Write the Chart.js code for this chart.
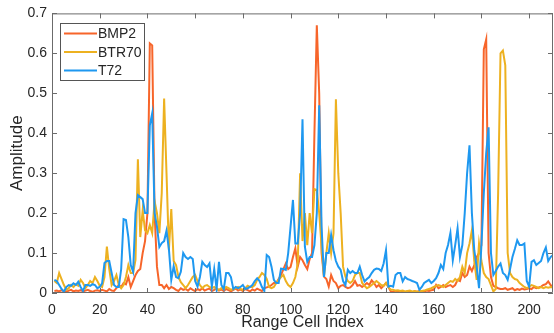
<!DOCTYPE html>
<html>
<head>
<meta charset="utf-8">
<script src="https://cdn.jsdelivr.net/npm/chart.js@4.4.1/dist/chart.umd.min.js"></script>
<style>
    html, body { margin: 0; padding: 0; background: #fff; }
</style>
</head>
<body>
<canvas id="c" width="554" height="333"></canvas>
<script>
// amplitude per range cell, cell index = position in array + 1
var bmp2 = [
    0.005, 0.006, 0.004, 0.007, 0.005, 0.003, 0.006, 0.008, 0.004, 0.006,
    0.005, 0.007, 0.004, 0.006, 0.008, 0.005, 0.003, 0.006, 0.007, 0.005,
    0.008, 0.006, 0.004, 0.01, 0.006, 0.005, 0.012, 0.02, 0.015, 0.025,
    0.022, 0.04, 0.015, 0.03, 0.045, 0.055, 0.06, 0.1, 0.13, 0.2,
    0.625, 0.62, 0.2, 0.066, 0.02, 0.02, 0.012, 0.02, 0.01, 0.015,
    0.012, 0.008, 0.005, 0.012, 0.008, 0.01, 0.006, 0.012, 0.008, 0.005,
    0.01, 0.007, 0.012, 0.006, 0.009, 0.011, 0.005, 0.008, 0.012, 0.006,
    0.009, 0.005, 0.01, 0.007, 0.004, 0.008, 0.011, 0.006, 0.009, 0.005,
    0.01, 0.007, 0.004, 0.009, 0.006, 0.011, 0.008, 0.005, 0.012, 0.014,
    0.016, 0.02, 0.025, 0.025, 0.035, 0.045, 0.06, 0.074, 0.06, 0.065,
    0.09, 0.112, 0.066, 0.09, 0.082, 0.07, 0.06, 0.085, 0.1, 0.4,
    0.67, 0.5, 0.1, 0.041, 0.035, 0.016, 0.045, 0.03, 0.025, 0.012,
    0.018, 0.02, 0.015, 0.012, 0.014, 0.02, 0.03, 0.018, 0.02, 0.015,
    0.02, 0.025, 0.02, 0.032, 0.025, 0.015, 0.02, 0.012, 0.018, 0.025,
    0.015, 0.004, 0.003, 0.005, 0.002, 0.004, 0.003, 0.002, 0.004, 0.003,
    0.002, 0.004, 0.003, 0.005, 0.003, 0.004, 0.006, 0.005, 0.007, 0.008,
    0.02, 0.012, 0.015, 0.02, 0.015, 0.018, 0.02, 0.015, 0.02, 0.033,
    0.03, 0.05, 0.04, 0.045, 0.066, 0.055, 0.07, 0.09, 0.1, 0.12,
    0.61, 0.635, 0.1, 0.04, 0.018, 0.015, 0.012, 0.01, 0.01, 0.012,
    0.008, 0.01, 0.012, 0.007, 0.01, 0.008, 0.011, 0.009, 0.01, 0.012,
    0.01, 0.015, 0.012, 0.014, 0.016, 0.02, 0.022, 0.029, 0.02, 0.015
];
var btr70 = [
    0.03, 0.025, 0.05, 0.035, 0.02, 0.008, 0.012, 0.02, 0.015, 0.022,
    0.018, 0.033, 0.025, 0.012, 0.02, 0.03, 0.025, 0.04, 0.03, 0.018,
    0.015, 0.04, 0.116, 0.06, 0.02, 0.03, 0.045, 0.02, 0.012, 0.02,
    0.04, 0.07, 0.05, 0.05, 0.083, 0.335, 0.14, 0.207, 0.157, 0.15,
    0.17, 0.15, 0.23, 0.2, 0.15, 0.25, 0.487, 0.3, 0.108, 0.21,
    0.08, 0.07, 0.04, 0.027, 0.02, 0.012, 0.02, 0.03, 0.04, 0.045,
    0.03, 0.02, 0.012, 0.018, 0.02, 0.015, 0.012, 0.015, 0.01, 0.008,
    0.012, 0.01, 0.015, 0.012, 0.008, 0.01, 0.012, 0.015, 0.01, 0.008,
    0.012, 0.018, 0.015, 0.015, 0.02, 0.033, 0.04, 0.05, 0.045, 0.035,
    0.015, 0.012, 0.015, 0.025, 0.033, 0.04, 0.045, 0.03, 0.02, 0.015,
    0.025, 0.04, 0.074, 0.3, 0.13, 0.2, 0.12, 0.2, 0.15, 0.26,
    0.258, 0.2, 0.116, 0.04, 0.1, 0.15, 0.1, 0.15, 0.485, 0.3,
    0.2, 0.066, 0.041, 0.03, 0.025, 0.03, 0.045, 0.05, 0.05, 0.025,
    0.018, 0.012, 0.015, 0.02, 0.025, 0.03, 0.025, 0.02, 0.018, 0.025,
    0.015, 0.008, 0.008, 0.006, 0.007, 0.005, 0.006, 0.004, 0.005, 0.006,
    0.004, 0.005, 0.003, 0.004, 0.005, 0.006, 0.008, 0.01, 0.012, 0.015,
    0.018, 0.02, 0.018, 0.015, 0.02, 0.025, 0.03, 0.028, 0.035, 0.03,
    0.04, 0.066, 0.05, 0.1, 0.124, 0.157, 0.08, 0.033, 0.124, 0.08,
    0.05, 0.04, 0.035, 0.02, 0.004, 0.01, 0.25, 0.6, 0.607, 0.57,
    0.1, 0.05, 0.04, 0.035, 0.033, 0.025, 0.02, 0.015, 0.012, 0.015,
    0.02, 0.018, 0.015, 0.012, 0.015, 0.012, 0.015, 0.013, 0.015, 0.014
];
var t72 = [
    0.033, 0.03, 0.02, 0.01, 0.003, 0.015, 0.02, 0.018, 0.024, 0.02,
    0.028, 0.015, 0.005, 0.02, 0.02, 0.018, 0.022, 0.02, 0.012, 0.015,
    0.024, 0.075, 0.08, 0.08, 0.05, 0.02, 0.015, 0.015, 0.06, 0.185,
    0.183, 0.14, 0.07, 0.053, 0.2, 0.245, 0.24, 0.235, 0.2, 0.2,
    0.42, 0.45, 0.2, 0.166, 0.115, 0.125, 0.13, 0.156, 0.11, 0.033,
    0.067, 0.04, 0.037, 0.053, 0.1, 0.09, 0.085, 0.09, 0.085, 0.03,
    0.016, 0.04, 0.078, 0.07, 0.065, 0.074, 0.016, 0.06, 0.01, 0.078,
    0.02, 0.01, 0.05, 0.05, 0.04, 0.01, 0.015, 0.012, 0.015, 0.02,
    0.01, 0.012, 0.015, 0.02, 0.03, 0.037, 0.03, 0.015, 0.005, 0.095,
    0.09, 0.066, 0.033, 0.025, 0.025, 0.061, 0.06, 0.058, 0.1, 0.166,
    0.233, 0.124, 0.124, 0.2, 0.435, 0.116, 0.078, 0.09, 0.09, 0.12,
    0.2, 0.47, 0.166, 0.04, 0.1, 0.1, 0.145, 0.107, 0.08, 0.066,
    0.058, 0.03, 0.02, 0.058, 0.05, 0.055, 0.05, 0.05, 0.066, 0.045,
    0.029, 0.035, 0.04, 0.05, 0.058, 0.061, 0.06, 0.055, 0.074, 0.107,
    0.016, 0.018, 0.016, 0.045, 0.05, 0.05, 0.029, 0.04, 0.035, 0.033,
    0.03, 0.028, 0.025, 0.008, 0.015, 0.025, 0.029, 0.033, 0.025, 0.03,
    0.037, 0.05, 0.07, 0.06, 0.1, 0.12, 0.15, 0.082, 0.12, 0.162,
    0.09, 0.12, 0.2, 0.3, 0.37, 0.2, 0.107, 0.066, 0.012, 0.12,
    0.25, 0.35, 0.415, 0.1, 0.045, 0.055, 0.066, 0.074, 0.05, 0.045,
    0.033, 0.06, 0.09, 0.11, 0.132, 0.12, 0.12, 0.124, 0.03, 0.016,
    0.078, 0.082, 0.07, 0.075, 0.08, 0.1, 0.114, 0.08, 0.09, 0.095
];

var seriesNames = ['BMP2', 'BTR70', 'T72'];
var seriesColors = ['#F7652A', '#EDB120', '#1E98F0'];
var xMax = 210;
var yMax = 0.7;

var FONT = '"Liberation Sans", Arial, Helvetica, sans-serif';
var AXIS_COLOR = '#262626';
var BOX_COLOR = '#6b6b6b';

function toPoints(values) {
    return values.map(function (v, k) {
        return { x: k + 1, y: v };
    });
}

// MATLAB-like box with inward ticks on all four sides
var boxPlugin = {
    id: 'matlabBox',
    afterDatasetsDraw: function (chart) {
        var ctx = chart.ctx;
        var a = chart.chartArea;
        var xs = chart.scales.x;
        var ys = chart.scales.y;
        var tl = 5;
        ctx.save();
        ctx.strokeStyle = BOX_COLOR;
        ctx.lineWidth = 1;
        ctx.beginPath();
        ctx.rect(a.left + 0.5, a.top + 0.5, a.right - a.left - 1, a.bottom - a.top - 1);
        xs.ticks.forEach(function (t) {
            var px = Math.round(xs.getPixelForValue(t.value)) + 0.5;
            ctx.moveTo(px, a.bottom);
            ctx.lineTo(px, a.bottom - tl);
            ctx.moveTo(px, a.top);
            ctx.lineTo(px, a.top + tl);
        });
        ys.ticks.forEach(function (t) {
            var py = Math.round(ys.getPixelForValue(t.value)) + 0.5;
            ctx.moveTo(a.left, py);
            ctx.lineTo(a.left + tl, py);
            ctx.moveTo(a.right, py);
            ctx.lineTo(a.right - tl, py);
        });
        ctx.stroke();
        ctx.restore();
    }
};

// legend box in the upper left corner of the axes
var legendPlugin = {
    id: 'innerLegend',
    afterDraw: function (chart) {
        var ctx = chart.ctx;
        var x0 = 60, y0 = 23, w = 84, h = 57;
        var rowY = [33.5, 52, 70.5];
        ctx.save();
        ctx.fillStyle = '#fff';
        ctx.fillRect(x0, y0, w, h);
        ctx.strokeStyle = '#555';
        ctx.lineWidth = 1;
        ctx.strokeRect(x0 + 0.5, y0 + 0.5, w, h);
        ctx.font = '14px ' + FONT;
        ctx.textBaseline = 'middle';
        ctx.textAlign = 'left';
        chart.data.datasets.forEach(function (ds, i) {
            ctx.strokeStyle = ds.borderColor;
            ctx.lineWidth = 2;
            ctx.beginPath();
            ctx.moveTo(64, rowY[i]);
            ctx.lineTo(97, rowY[i]);
            ctx.stroke();
            ctx.fillStyle = AXIS_COLOR;
            ctx.fillText(ds.label, 98, rowY[i] + 1);
        });
        ctx.restore();
    }
};

var seriesValues = [bmp2, btr70, t72];
var datasets = seriesNames.map(function (name, i) {
    return {
        label: name,
        data: toPoints(seriesValues[i]),
        borderColor: seriesColors[i],
        backgroundColor: seriesColors[i],
        borderWidth: 2,
        pointRadius: 0,
        tension: 0,
        fill: false,
        order: 3 - i
    };
});

new Chart(document.getElementById('c').getContext('2d'), {
    type: 'line',
    data: { datasets: datasets },
    options: {
        responsive: false,
        animation: false,
        devicePixelRatio: 1,
        layout: { padding: { top: 13, right: 1, left: 0, bottom: 0 } },
        plugins: {
            legend: { display: false },
            tooltip: { enabled: false }
        },
        scales: {
            x: {
                type: 'linear',
                min: 0,
                max: xMax,
                grid: { display: false, drawTicks: false },
                border: { display: false },
                ticks: {
                    stepSize: 20,
                    includeBounds: false, // figure is cut at 210, no label there
                    padding: 9,
                    color: AXIS_COLOR,
                    font: { family: FONT, size: 14 },
                    maxRotation: 0
                },
                title: {
                    display: true,
                    text: 'Range Cell Index',
                    color: AXIS_COLOR,
                    font: { family: FONT, size: 16 },
                    padding: { top: 0, bottom: 1 }
                },
                afterFit: function (scale) {
                    scale.height = 40;
                    scale.paddingRight = 0;
                }
            },
            y: {
                min: 0,
                max: yMax,
                grid: { display: false, drawTicks: false },
                border: { display: false },
                ticks: {
                    stepSize: 0.1,
                    padding: 5,
                    color: AXIS_COLOR,
                    font: { family: FONT, size: 14 },
                    callback: function (value) {
                        return String(Number(value.toFixed(1)));
                    }
                },
                title: {
                    display: true,
                    text: 'Amplitude',
                    color: AXIS_COLOR,
                    font: { family: FONT, size: 17 },
                    padding: { top: 7, bottom: 0 }
                },
                afterFit: function (scale) {
                    scale.width = 52;
                }
            }
        }
    },
    plugins: [boxPlugin, legendPlugin]
});
</script>
</body>
</html>
